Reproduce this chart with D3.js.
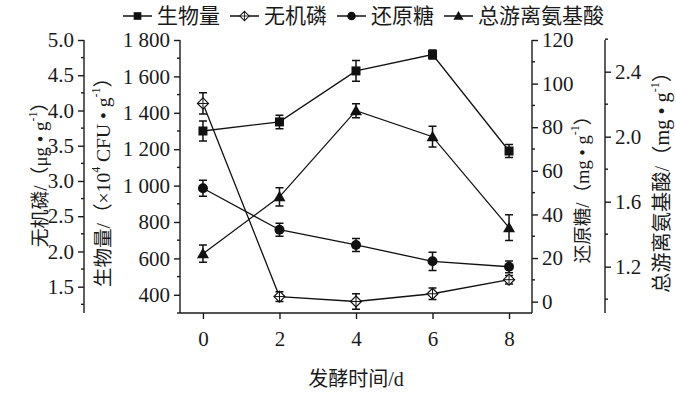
<!DOCTYPE html>
<meta charset="utf-8">
<style>
  body { margin: 0; background: #fff; }
  svg { display: block; }
  text { fill: #1a1a1a; }
  .num { font-family: "Liberation Serif", "Times New Roman", serif; font-size: 21px; }
  .cjk { font-family: "Liberation Serif", "Noto Sans CJK SC", serif; font-size: 20px; }
  .axis path, .axis line { stroke: #1a1a1a; stroke-width: 1.4px; }
  .series { fill: none; stroke: #111; stroke-width: 1.3px; }
  .err { stroke: #111; stroke-width: 1.5px; }
</style>
<svg width="676" height="394"></svg>
<script src="https://cdn.jsdelivr.net/npm/d3@7"></script>
<script>

// 发酵时间 (d)
var days = [0, 2, 4, 6, 8];

// 生物量 ×10^4 CFU/g
var biomass = [1300, 1350, 1630, 1720, 1190];
var biomassErr = [55, 37, 57, 25, 36];

// 无机磷 μg/g
var phos = [4.10, 1.36, 1.29, 1.40, 1.60];
var phosErr = [0.15, 0.07, 0.11, 0.08, 0.06];

// 还原糖 mg/g
var sugar = [52, 33, 26, 18.5, 16];
var sugarErr = [3.7, 3, 3, 4.2, 2.7];

// 总游离氨基酸 mg/g
var amino = [1.28, 1.63, 2.16, 2.00, 1.44];
var aminoErr = [0.053, 0.056, 0.043, 0.064, 0.079];

var xTicks = [0, 2, 4, 6, 8];
var phosTicks = [1.5, 2.0, 2.5, 3.0, 3.5, 4.0, 4.5, 5.0];
var phosMinor = [1.25, 1.75, 2.25, 2.75, 3.25, 3.75, 4.25, 4.75];
var bioTicks = [400, 600, 800, 1000, 1200, 1400, 1600, 1800];
var bioMinor = [300, 500, 700, 900, 1100, 1300, 1500, 1700];
var sugarTicks = [0, 20, 40, 60, 80, 100, 120];
var sugarMinor = [10, 30, 50, 70, 90, 110];
var aminoTicks = [1.2, 1.6, 2.0, 2.4];
var aminoMinor = [1.0, 1.4, 1.8, 2.2, 2.6];

var legendNames = ["生物量", "无机磷", "还原糖", "总游离氨基酸"];

var svg = d3.select("svg");

var plotTop = 40, plotBottom = 313;
var xLeft = 180, xRight = 532;
var phosX = 84, aminoX = 605;

var x = d3.scaleLinear().domain([-0.6, 8.6]).range([xLeft, xRight]);
var yBio = d3.scaleLinear().domain([300, 1800]).range([plotBottom, plotTop]);
var yPhos = d3.scaleLinear().domain([1.127, 5.0]).range([plotBottom, plotTop]);
var ySugar = d3.scaleLinear().domain([-5.2, 120]).range([plotBottom, plotTop]);
var yAmino = d3.scaleLinear().domain([0.915, 2.595]).range([plotBottom, plotTop]);

function spaced(d) {
  return d3.format(",")(d).replace(",", " ");
}

// draws an axis with major + minor ticks
function drawAxis(gen, scale, pos, major, minor, fmt, vertical) {
  var g = svg.append("g")
    .attr("class", "axis num")
    .attr("transform", vertical ? "translate(" + pos + ",0)" : "translate(0," + pos + ")");
  g.call(gen(scale).tickValues(major).tickSize(6).tickPadding(4).tickFormat(fmt).tickSizeOuter(0));
  g.select(".domain").attr("d", vertical
    ? "M0," + scale.range()[0] + "V" + scale.range()[1]
    : "M" + scale.range()[0] + ",0H" + scale.range()[1]);
  g.attr("font-family", null).attr("font-size", null);
  g.selectAll("text").attr("class", "num");
  var dir = (gen === d3.axisLeft) ? -1 : 1;
  g.selectAll(".minor").data(minor).enter().append("line")
    .attr("class", "minor")
    .attr(vertical ? "x1" : "y1", 0)
    .attr(vertical ? "x2" : "y2", vertical ? dir * 3 : 3)
    .attr(vertical ? "y1" : "x1", function(d) { return scale(d); })
    .attr(vertical ? "y2" : "x2", function(d) { return scale(d); });
  return g;
}

var xg = drawAxis(d3.axisBottom, x, plotBottom, xTicks, [], d3.format("d"), false);
xg.selectAll(".tick text").attr("dy", "1.1em");
drawAxis(d3.axisLeft, yPhos, phosX, phosTicks, phosMinor, d3.format(".1f"), true);
drawAxis(d3.axisLeft, yBio, xLeft, bioTicks, bioMinor, spaced, true);
drawAxis(d3.axisRight, ySugar, xRight, sugarTicks, sugarMinor, d3.format("d"), true);
drawAxis(d3.axisRight, yAmino, aminoX, aminoTicks, aminoMinor, d3.format(".1f"), true);

// rotated axis titles, parts: [text, superscript]; y0/y1 = extent along the axis
function title(cx, y0, y1, parts) {
  var t = svg.append("text")
    .attr("class", "cjk")
    .attr("text-anchor", "middle")
    .attr("dominant-baseline", "central")
    .attr("transform", "translate(" + cx + "," + (y0 + y1) / 2 + ") rotate(-90)");
  var back = 0;
  parts.forEach(function(p) {
    var s = t.append("tspan").text(p[0]);
    if (back) s.attr("dy", back);
    back = 0;
    if (p[1]) {
      t.append("tspan").attr("dy", -7).attr("font-size", 12).text(p[1]);
      back = 7;
    }
  });
  var len = t.node().getBBox().width;
  var fs = Math.min(21, 20 * (y1 - y0) / len);
  t.style("font-size", fs + "px");
}

title(40, 93, 247, [["无机磷/（μg • g", "-1"], ["）"]]);
title(103, 68, 287, [["生物量/（×10", "4"], [" CFU • g", "-1"], ["）"]]);
title(582, 107, 263, [["还原糖/（mg • g", "-1"], ["）"]]);
title(662, 62, 293, [["总游离氨基酸/（mg • g", "-1"], ["）"]]);

svg.append("text")
  .attr("class", "cjk")
  .attr("font-size", 21)
  .attr("text-anchor", "middle")
  .attr("x", (x(0) + x(8)) / 2)
  .attr("y", 386)
  .text("发酵时间/d");

// markers
function marker(sel, kind, k) {
  k = k || 1;
  if (kind === "square") {
    sel.append("rect").attr("x", -4.5 * k).attr("y", -4.5 * k)
      .attr("width", 9 * k).attr("height", 9 * k).attr("fill", "#111");
  } else if (kind === "circle") {
    sel.append("circle").attr("r", 5 * k).attr("fill", "#111");
  } else if (kind === "triangle") {
    sel.append("path").attr("d", "M0,-6L6,4.5L-6,4.5Z").attr("transform", "scale(" + k + ")").attr("fill", "#111");
  } else {
    var d = sel.append("g").attr("transform", "scale(" + k + ")");
    d.append("path").attr("d", "M0,-5.5L5.5,0L0,5.5L-5.5,0Z")
      .attr("fill", "#fff").attr("stroke", "#111").attr("stroke-width", 1.2);
    d.append("path").attr("d", "M0,-5.5V5.5M-5.5,0H5.5")
      .attr("stroke", "#111").attr("stroke-width", 1);
  }
}

var series = [
  { vals: phos, err: phosErr, y: yPhos, kind: "diamond" },
  { vals: sugar, err: sugarErr, y: ySugar, kind: "circle" },
  { vals: amino, err: aminoErr, y: yAmino, kind: "triangle" },
  { vals: biomass, err: biomassErr, y: yBio, kind: "square" }
];

series.forEach(function(s) {
  var line = d3.line()
    .x(function(d, i) { return x(days[i]); })
    .y(function(d) { return s.y(d); });
  svg.append("path").datum(s.vals).attr("class", "series").attr("d", line);
});

series.forEach(function(s) {
  var g = svg.append("g");
  s.vals.forEach(function(v, i) {
    var cx = x(days[i]), y1 = s.y(v + s.err[i]), y2 = s.y(v - s.err[i]);
    g.append("path").attr("class", "err")
      .attr("d", "M" + cx + "," + y1 + "V" + y2 +
        "M" + (cx - 4) + "," + y1 + "H" + (cx + 4) +
        "M" + (cx - 4) + "," + y2 + "H" + (cx + 4));
    var m = g.append("g").attr("transform", "translate(" + cx + "," + s.y(v) + ")");
    marker(m, s.kind);
  });
});

// legend
var kinds = ["square", "diamond", "circle", "triangle"];
var lx = 123, ly = 16;
legendNames.forEach(function(name, i) {
  var g = svg.append("g").attr("transform", "translate(" + lx + "," + ly + ")");
  g.append("path").attr("d", "M0,0H29").attr("stroke", "#111").attr("stroke-width", 1.5);
  var m = g.append("g").attr("transform", "translate(14.5,0)");
  marker(m, kinds[i], 0.85);
  var t = g.append("text").attr("class", "cjk").style("font-size", "21px")
    .attr("x", 34).attr("dominant-baseline", "central").text(name);
  lx += 34 + t.node().getComputedTextLength() + 10;
});

</script>
